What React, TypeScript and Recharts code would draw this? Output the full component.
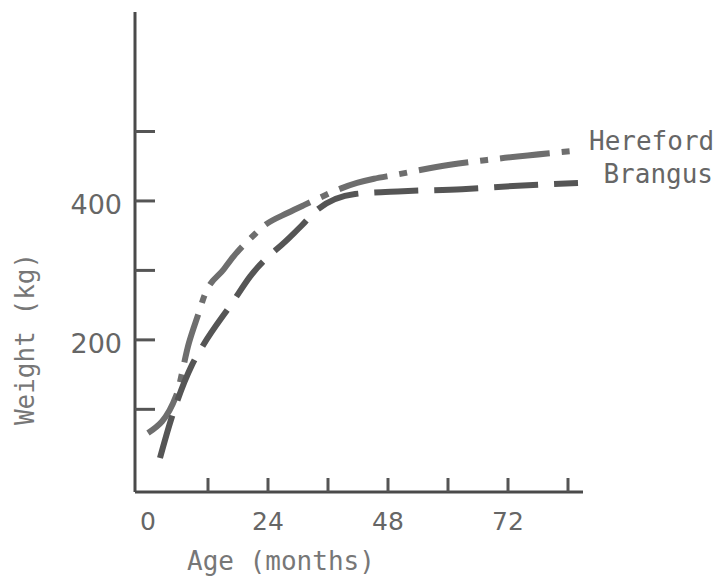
import React from "react";
import { LineChart, Line, XAxis, YAxis } from "recharts";

// Age (months) and weight (kg)
const herefordAge = [0, 5.6, 8.2, 10.2, 11.2, 15.2, 17.2, 21.2, 23, 28, 31.2, 41.8, 45.2, 49, 60.4, 67.8, 86.4];
const herefordKg = [66, 119, 196, 240, 262, 302, 321, 351, 363, 383, 394, 426, 432, 437, 452, 459, 473];

const brangusAge = [2.4, 4.6, 8.8, 11, 17, 20.4, 28.4, 30.8, 33, 41.4, 51, 62.8, 74, 86];
const brangusKg = [30, 85, 164, 192, 255, 291, 348, 365, 382, 410, 414, 417, 422, 426];

const xTicks = [0, 12, 24, 36, 48, 60, 72, 84];
const xTickLabels = [0, 24, 48, 72];
const yTicks = [100, 200, 300, 400, 500];
const yTickLabels = [200, 400];

const hereford = herefordAge.map((a, i) => ({ age: a, kg: herefordKg[i] }));
const brangus = brangusAge.map((a, i) => ({ age: a, kg: brangusKg[i] }));

const MONO = "'DejaVu Sans Mono', monospace";
const SANS = "'DejaVu Sans', sans-serif";

const XTick = (props: any) => {
  const { x, y, payload } = props;
  const v = payload.value;
  return (
    <g>
      {v !== 0 && <line x1={x} x2={x} y1={y} y2={y - 14} stroke="#555" strokeWidth={3} />}
      {xTickLabels.includes(v) && (
        <text x={x} y={y + 38} textAnchor="middle" fontFamily={SANS} fontSize={25} fill="#666">
          {v}
        </text>
      )}
    </g>
  );
};

const YTick = (props: any) => {
  const { x, y, payload } = props;
  const v = payload.value;
  return (
    <g>
      <line x1={x} x2={x + 20} y1={y} y2={y} stroke="#555" strokeWidth={3} />
      {yTickLabels.includes(v) && (
        <text x={x - 13} y={y + 13} textAnchor="end" fontFamily={SANS} fontSize={27} fill="#666">
          {v}
        </text>
      )}
    </g>
  );
};

export default function App() {
  return (
    <div style={{ position: "relative", width: 717, height: 578, background: "#fff" }}>
      <style>{`body{margin:0;background:#fff}`}</style>
      <LineChart
        width={717}
        height={578}
        margin={{ top: 12, right: 134, bottom: 85, left: 134 }}
      >
        <XAxis
          dataKey="age"
          type="number"
          domain={[-2.6, 87]}
          allowDataOverflow
          ticks={xTicks}
          tick={<XTick />}
          tickSize={0}
          tickMargin={0}
          tickLine={false}
          height={1}
          axisLine={{ stroke: "#4a4a4a", strokeWidth: 3 }}
          interval={0}
        />
        <YAxis
          type="number"
          domain={[-19, 672]}
          allowDataOverflow
          ticks={yTicks}
          tick={<YTick />}
          tickSize={0}
          tickMargin={0}
          tickLine={false}
          width={1}
          axisLine={{ stroke: "#4a4a4a", strokeWidth: 3 }}
          interval={0}
        />
        <Line
          data={hereford}
          dataKey="kg"
          type="monotone"
          stroke="#6e6e6e"
          strokeWidth={6}
          strokeDasharray="50 12 8 12"
          dot={false}
          isAnimationActive={false}
        />
        <Line
          data={brangus}
          dataKey="kg"
          type="monotone"
          stroke="#555"
          strokeWidth={6}
          strokeDasharray="44 16"
          dot={false}
          isAnimationActive={false}
        />
      </LineChart>
      <svg
        width={717}
        height={578}
        style={{ position: "absolute", left: 0, top: 0, pointerEvents: "none" }}
      >
        <text x={589} y={150} fontFamily={MONO} fontSize={26} fill="#666">Hereford</text>
        <text x={713} y={183} textAnchor="end" fontFamily={MONO} fontSize={26} fill="#666">Brangus</text>
        <text x={187} y={570} fontFamily={MONO} fontSize={26} fill="#777">Age (months)</text>
        <text
          x={34}
          y={339}
          textAnchor="middle"
          transform="rotate(-90 34 339)"
          fontFamily={MONO}
          fontSize={26}
          fill="#777"
        >
          Weight (kg)
        </text>
      </svg>
    </div>
  );
}
